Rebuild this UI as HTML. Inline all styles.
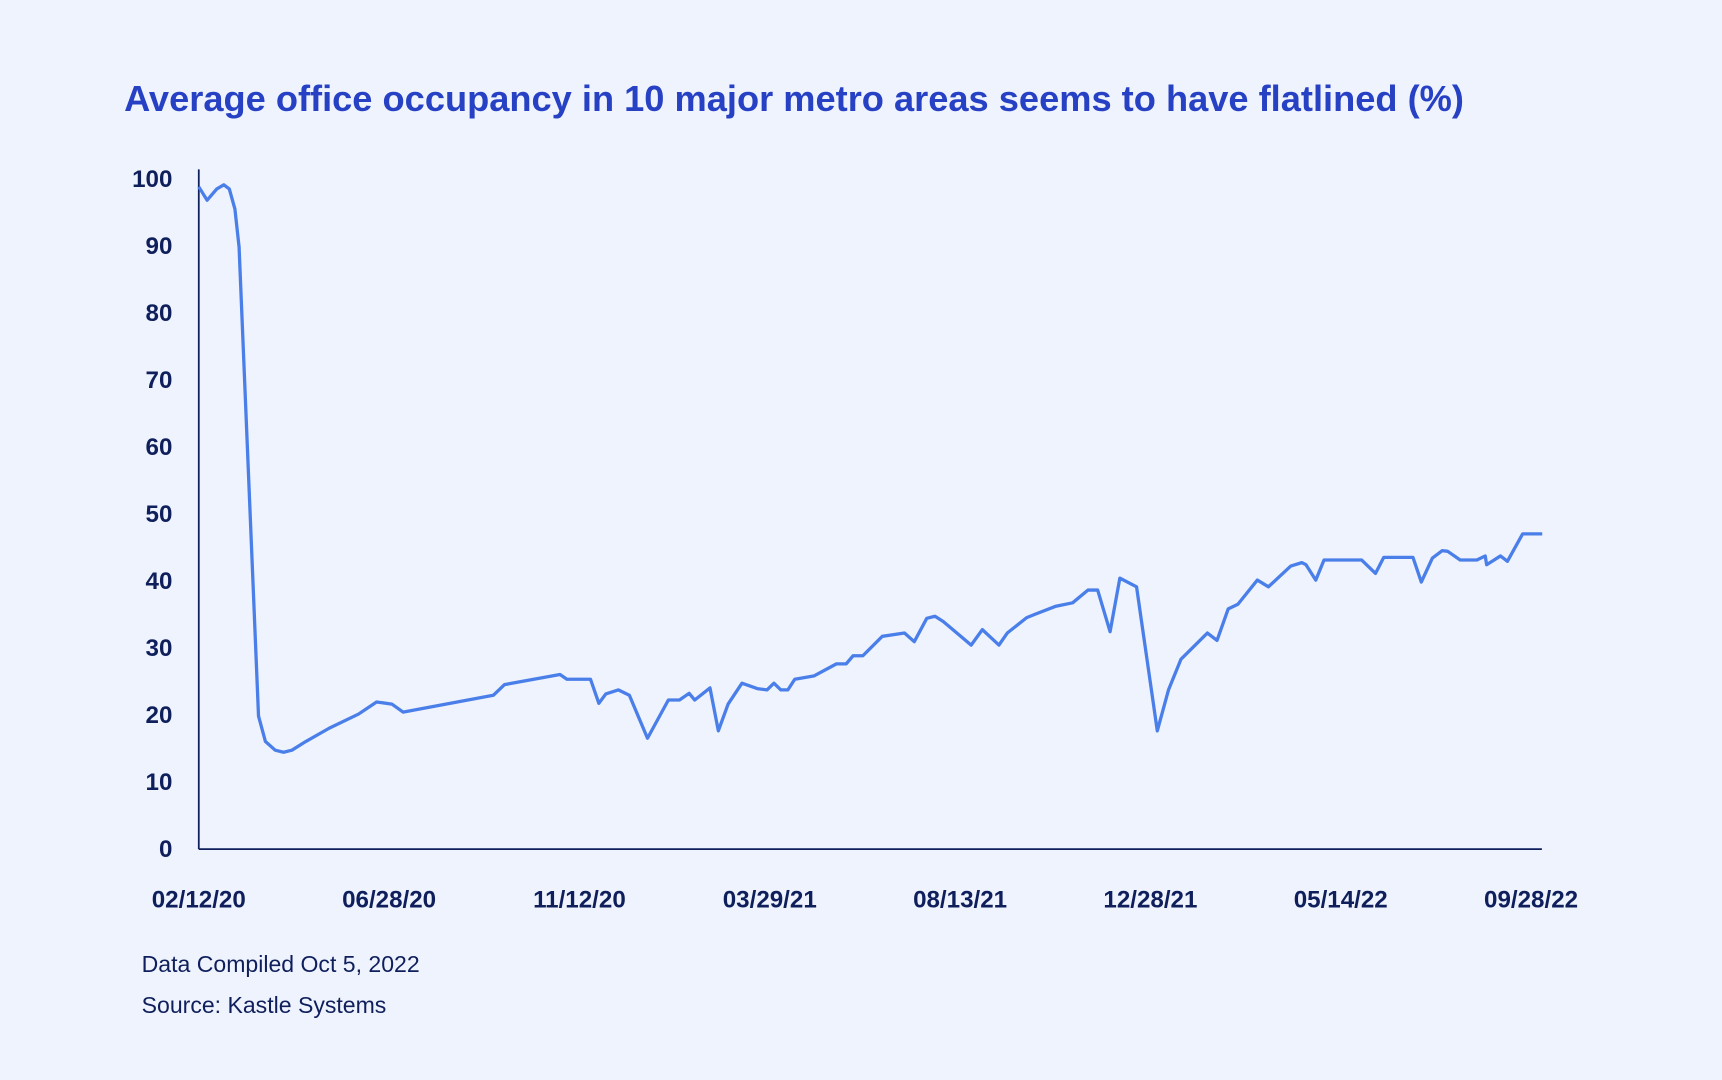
<!DOCTYPE html>
<html><head><meta charset="utf-8"><style>
html,body{margin:0;padding:0;background:#eff3fd;}
svg{display:block;}
</style></head><body>
<svg width="1722" height="1080" viewBox="0 0 1568 983" xmlns="http://www.w3.org/2000/svg">
<rect width="1568" height="983" fill="#eff3fd"/>
<text x="113" y="101" font-family="Liberation Sans, sans-serif" font-weight="bold" font-size="33" fill="#2741c4">Average office occupancy in 10 major metro areas seems to have flatlined (%)</text>
<g id="yaxis"></g>
<g id="xaxis"></g>
<line x1="181" y1="154" x2="181" y2="773" stroke="#0f1f5c" stroke-width="1.6"/>
<line x1="181" y1="773" x2="1404" y2="773" stroke="#0f1f5c" stroke-width="1.6"/>
<path id="line" fill="none" stroke="#4a7fea" stroke-width="3" stroke-linejoin="round"/>
<text x="129" y="885" font-family="Liberation Sans, sans-serif" font-size="21" fill="#0f1f5c">Data Compiled Oct 5, 2022</text>
<text x="129" y="922" font-family="Liberation Sans, sans-serif" font-size="21" fill="#0f1f5c">Source: Kastle Systems</text>
</svg>
<script>
const days = [0,6,13,18,22,26,29,43,48,55,61,67,77,94,115,128,139,147,212,220,260,265,282,288,293,302,310,323,338,346,353,357,368,374,381,391,402,409,414,419,424,429,443,459,466,471,478,492,508,515,524,530,536,556,564,576,582,596,602,617,629,640,647,656,663,675,690,698,707,726,733,741,748,762,770,786,794,797,804,810,837,847,853,874,880,888,895,899,908,920,926,927,937,942,953,967];
const values = [98.7,96.7,98.4,99,98.4,95.4,89.7,19.7,15.9,14.6,14.3,14.6,15.9,17.9,20,21.8,21.5,20.3,22.8,24.4,25.9,25.2,25.2,21.6,23,23.6,22.8,16.4,22.1,22.1,23.1,22.1,23.9,17.5,21.5,24.6,23.8,23.6,24.6,23.6,23.6,25.2,25.7,27.5,27.5,28.7,28.7,31.6,32.1,30.8,34.3,34.6,33.8,30.3,32.6,30.3,32.1,34.4,34.9,36.1,36.6,38.5,38.5,32.3,40.3,39,17.5,23.6,28.2,32.1,31,35.7,36.4,40,39,42.1,42.6,42.3,40,43,43,41,43.4,43.4,39.7,43.3,44.4,44.3,43,43,43.6,42.3,43.6,42.8,46.9,46.9];
const yTicks = [0,10,20,30,40,50,60,70,80,90,100];
const xTickLabels = ["02/12/20","06/28/20","11/12/20","03/29/21","08/13/21","12/28/21","05/14/22","09/28/22"];
const xTickDays = [0,137,274,411,548,685,822,959];
const NS="http://www.w3.org/2000/svg";
const X = d => 181 + d*1.265;
const Y = v => 772 - v*6.1;
let dstr="";
days.forEach((d,i)=>{dstr += (i?"L":"M") + X(d).toFixed(1) + " " + Y(values[i]).toFixed(1);});
document.getElementById('line').setAttribute('d', dstr);
const ya=document.getElementById('yaxis');
yTicks.forEach(v=>{
  const t=document.createElementNS(NS,'text');
  
  
  t.setAttribute('x',157);t.setAttribute('y',Y(v)+8);
  t.setAttribute('text-anchor','end');
  t.setAttribute('font-family','Liberation Sans, sans-serif');
  t.setAttribute('font-weight','bold');t.setAttribute('font-size','22');t.setAttribute('fill','#0f1f5c');
  t.textContent=v;ya.appendChild(t);
});
const xa=document.getElementById('xaxis');
xTickLabels.forEach((l,i)=>{
  const t=document.createElementNS(NS,'text');
  
  
  t.setAttribute('x',X(xTickDays[i]));t.setAttribute('y',826);
  t.setAttribute('text-anchor','middle');
  t.setAttribute('font-family','Liberation Sans, sans-serif');
  t.setAttribute('font-weight','bold');t.setAttribute('font-size','22');t.setAttribute('fill','#0f1f5c');
  t.textContent=l;xa.appendChild(t);
});
</script>
</body></html>
